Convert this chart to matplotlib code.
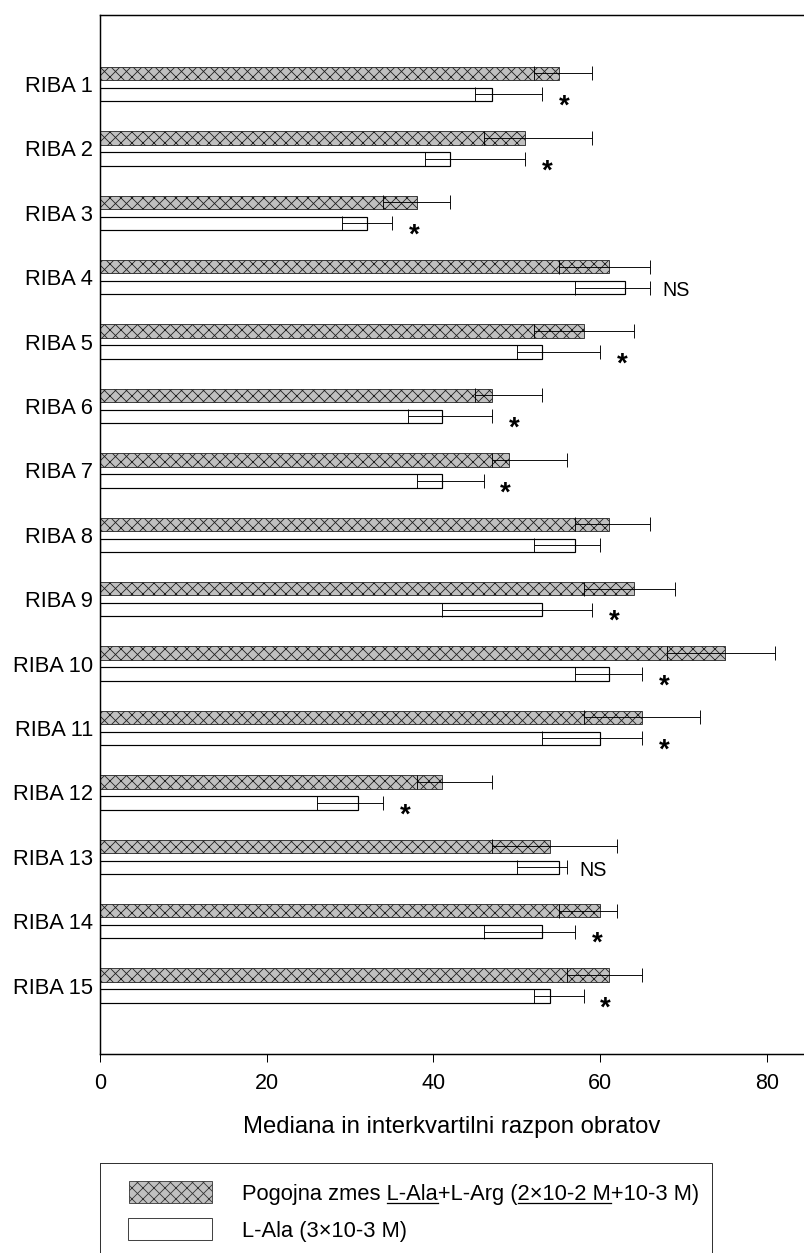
import matplotlib
matplotlib.use("Agg")
import matplotlib.pyplot as plt
from matplotlib.patches import Rectangle
import numpy as np

# median and interquartile range of turns, per fish
fish = ["RIBA %d" % i for i in range(1, 16)]
mix_median = [55, 51, 38, 61, 58, 47, 49, 61, 64, 75, 65, 41, 54, 60, 61]
mix_q1 = [52, 46, 34, 55, 52, 45, 47, 57, 58, 68, 58, 38, 47, 55, 56]
mix_q3 = [59, 59, 42, 66, 64, 53, 56, 66, 69, 81, 72, 47, 62, 62, 65]
ala_median = [47, 42, 32, 63, 53, 41, 41, 57, 53, 61, 60, 31, 55, 53, 54]
ala_q1 = [45, 39, 29, 57, 50, 37, 38, 52, 41, 57, 53, 26, 50, 46, 52]
ala_q3 = [53, 51, 35, 66, 60, 47, 46, 60, 59, 65, 65, 34, 56, 57, 58]
signif = ["*", "*", "*", "NS", "*", "*", "*", "", "*", "*", "*", "*", "NS", "*", "*"]

label_mix = "Pogojna zmes L-Ala+L-Arg (2\u00d710-2 M+10-3 M)"
label_ala = "L-Ala (3\u00d710-3 M)"
underlined = ["L-Ala", "2\u00d710-2 M"]

FONT = ["Liberation Sans", "DejaVu Sans"]
plt.rcParams["font.family"] = FONT
plt.rcParams["hatch.linewidth"] = 0.9

DPI = 66
W, H = 804, 1253
fig = plt.figure(figsize=(W / DPI, H / DPI), dpi=DPI)
ax = fig.add_axes([100 / W, 199 / H, 704 / W, 1039 / H])

y = np.arange(1, 16)
off = 0.163
h = 0.21
GRAY = "#c0c0c0"

ax.barh(y - off, mix_median, height=h, color=GRAY, edgecolor="#202020",
        hatch="xx", linewidth=0.9, zorder=2)
ax.barh(y + off, ala_median, height=h, color="white", edgecolor="black",
        linewidth=1.3, zorder=2)

cap = 7.3
ax.errorbar(mix_median, y - off,
            xerr=[np.subtract(mix_median, mix_q1), np.subtract(mix_q3, mix_median)],
            fmt="none", ecolor="black", elinewidth=1, capsize=cap, capthick=1, zorder=3)
ax.errorbar(ala_median, y + off,
            xerr=[np.subtract(ala_median, ala_q1), np.subtract(ala_q3, ala_median)],
            fmt="none", ecolor="black", elinewidth=1, capsize=cap, capthick=1, zorder=3)

for i, s in enumerate(signif):
    if s == "*":
        ax.text(ala_q3[i] + 2.64, y[i] + off + 0.30, "*", ha="center", va="baseline",
                fontsize=30, fontweight="bold")
    elif s == "NS":
        ax.text(ala_q3[i] + 1.45, y[i] + off + 0.13, "NS", ha="left", va="baseline",
                fontsize=21.5)

ax.set_xlim(0, 84.44)
ax.set_ylim(16.062, -0.071)
ax.set_xticks([0, 20, 40, 60, 80])
ax.set_yticks(y)
ax.set_yticklabels(fish)
ax.tick_params(axis="y", length=0, pad=7.6, labelsize=23.8)
ax.tick_params(axis="x", direction="out", length=8.7, width=1.1, pad=12, labelsize=23.5)
ax.set_xlabel("Mediana in interkvartilni razpon obratov", fontsize=26, labelpad=24)
ax.spines["right"].set_visible(False)
for side in ["left", "top", "bottom"]:
    ax.spines[side].set_linewidth(1.6)

# legend drawn by hand in pixel coordinates (needs underlined words)
lax = fig.add_axes([0, 0, 1, 1])
lax.set_xlim(0, W)
lax.set_ylim(H, 0)
lax.axis("off")
lax.patch.set_visible(False)

lax.add_patch(Rectangle((100, 1163), 612, 120, fill=False, linewidth=1.1,
                        edgecolor="#333333"))
lax.add_patch(Rectangle((129, 1181), 83, 22, facecolor=GRAY, edgecolor="#333333",
                        hatch="xx", linewidth=0.9))
lax.add_patch(Rectangle((128, 1218), 84, 22, facecolor="white", edgecolor="#444444",
                        linewidth=1.1))

tx = 242
LFS = 23.8
lax.text(tx, 1200, label_mix, fontsize=LFS, va="baseline")
lax.text(tx, 1237, label_ala, fontsize=LFS, va="baseline")

renderer = fig.canvas.get_renderer()


def text_width(s):
    t = lax.text(tx, 1200, s, fontsize=LFS, va="baseline")
    w = t.get_window_extent(renderer).width
    t.remove()
    return w


for word in underlined:
    k = label_mix.index(word) + len(word)
    x1 = tx + text_width(label_mix[:k])
    x0 = x1 - text_width(word)
    lax.plot([x0, x1], [1203, 1203], color="black", linewidth=1.4)

fig.savefig("out.png", dpi=DPI)
